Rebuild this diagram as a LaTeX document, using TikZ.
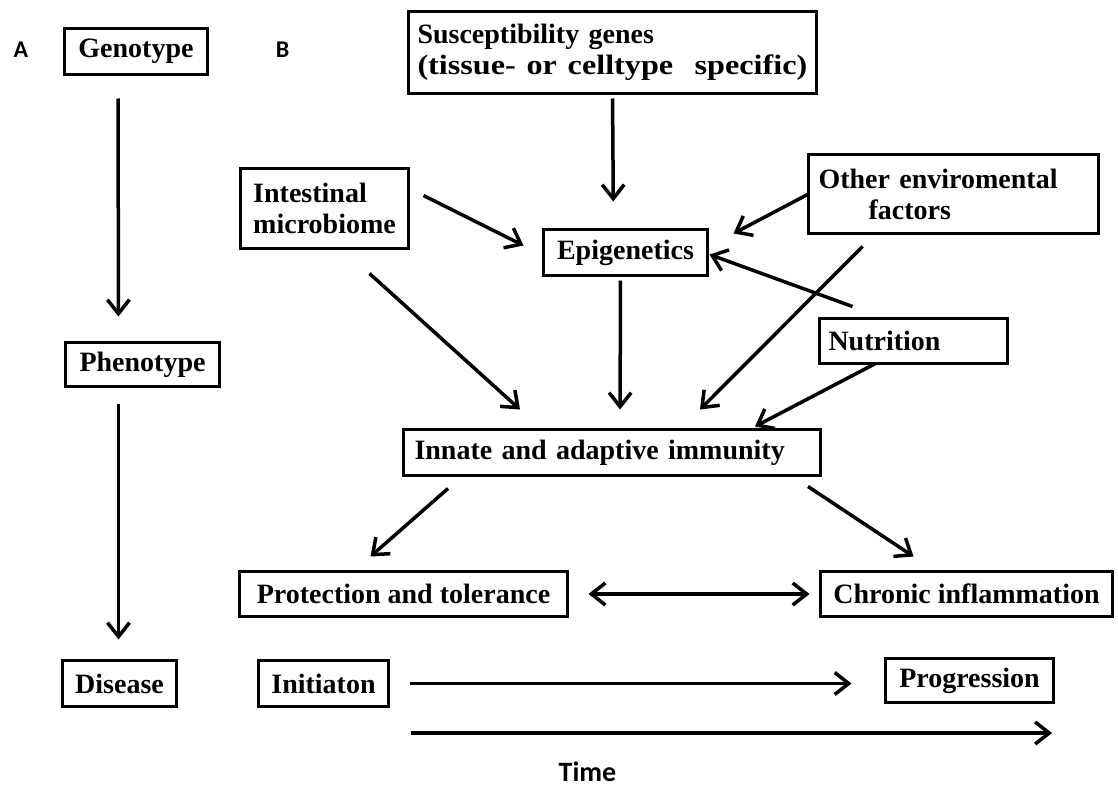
\documentclass[tikz,border=0pt]{standalone}
\usepackage{graphicx}
\usepackage{fontspec}
\setmainfont{Liberation Serif}
\newfontfamily\carlito{Carlito}
\usetikzlibrary{arrows.meta}

\begin{document}
\begin{tikzpicture}[x=1pt,y=-1pt,>={Straight Barb[length=14pt,width=22pt]}]
      \tikzstyle{every node}=[inner sep=0pt,outer sep=0pt]
      \tikzstyle{box}=[draw,line width=3.5pt,
			      font=\fontsize{28}{31}\selectfont\bfseries]
      \tikzstyle{arr}=[->,line width=3.5pt]
      \tikzstyle{tag}=[font=\fontsize{24}{28}\selectfont\carlito\bfseries]
      \fill[white] (0,0) rectangle (1118,787);
      \useasboundingbox (0,0) rectangle (1118,787);
      % A: genotype to disease
      \node[tag] (tagA) at (21,50) {A};
      \node[box,minimum width=143pt,minimum height=46pt] (geno) at (136,51.5) {Genotype};
      \node[box,minimum width=154pt,minimum height=44pt] (pheno) at (142.5,364.5) {Phenotype};
      \node[box,minimum width=114pt,minimum height=46pt] (disease) at (119.5,683.5) {Disease};
      \draw[arr,shorten <=24pt,shorten >=26pt] ([xshift=-18pt]geno.south) -- ([xshift=-24pt]pheno.north);
      \draw[arr,shorten <=17pt,shorten >=21pt] ([xshift=-24pt]pheno.south) -- ([xshift=-1pt]disease.north);
      % B: factors
      \node[tag] (tagB) at (282.5,50) {B};
      \node[box,minimum width=408pt,minimum height=82pt,text width=390pt,align=left] (susc) at (612.5,52.5)
	  {Susceptibility genes\\\scalebox{1.15}[1]{(tissue- or celltype\ \ specific)}};
      \node[box,minimum width=168pt,minimum height=80pt,align=left] (intest) at (324.5,208.5)
	  {Intestinal\\microbiome};
      \node[box,minimum width=164pt,minimum height=46pt] (epi) at (625.5,252.5) {Epigenetics};
      \node[box,minimum width=290pt,minimum height=79pt,text width=270pt,align=left] (other) at (953.5,194)
	  {Other enviromental\\\hspace*{50pt}factors};
      \node[box,minimum width=188pt,minimum height=45pt,text width=170pt,align=left] (nutr) at (913.5,341)
	  {Nutrition};
      \node[box,minimum width=417pt,minimum height=46pt,text width=395pt,align=left] (immun) at (612,452.5)
	  {Innate and adaptive immunity};
      \node[box,minimum width=328pt,minimum height=45pt] (prot) at (403.5,594) {Protection and tolerance};
      \node[box,minimum width=292pt,minimum height=45pt] (chron) at (966.5,594) {Chronic inflammation};
      \draw[arr,shorten <=5pt,shorten >=28pt] (susc.south) -- ([xshift=-12pt]epi.north);
      \draw[arr] ([xshift=15pt,yshift=13pt]intest.east) -- ([xshift=-20pt,yshift=7pt]epi.west);
      \draw[arr] (other.west) -- ([xshift=26pt,yshift=19pt]epi.east);
      \draw[arr] ([xshift=-61pt,yshift=12pt]nutr.north) -- ([xshift=2pt,yshift=-2pt]epi.east);
      \draw[arr] ([xshift=45pt,yshift=-25pt]intest.south) -- ([xshift=-92pt,yshift=20pt]immun.north);
      \draw[arr,shorten <=5pt,shorten >=20pt] ([xshift=-5pt]epi.south) -- ([xshift=8pt]immun.north);
      \draw[arr] ([xshift=-91pt,yshift=-13pt]other.south) -- ([xshift=88pt,yshift=20pt]immun.north);
      \draw[arr] ([xshift=-38pt]nutr.south) -- ([xshift=143pt,yshift=3pt]immun.north);
      \draw[arr] ([xshift=-164pt,yshift=-13pt]immun.south) -- ([xshift=-33pt,yshift=15pt]prot.north);
      \draw[arr] ([xshift=196pt,yshift=-11pt]immun.south) -- ([xshift=-53pt,yshift=15pt]chron.north);
      \draw[<->,line width=3.5pt,shorten <=21pt,shorten >=11pt] (prot.east) -- (chron.west);
      % time line
      \node[box,minimum width=130pt,minimum height=46pt] (init) at (323.5,683.5) {Initiaton};
      \node[box,minimum width=168pt,minimum height=44pt] (prog) at (969.5,680.5) {Progression};
      \draw[arr,shorten <=21pt,shorten >=34pt] (init.east) -- (init.east -| prog.west);
      \coordinate (t0) at (411,733);
      \coordinate (t1) at (1052,733);
      \draw[arr] (t0) -- (t1);
      \node[font=\fontsize{28}{32}\selectfont\carlito\bfseries] (time) at (587.5,772) {Time};
  \end{tikzpicture}
\end{document}
